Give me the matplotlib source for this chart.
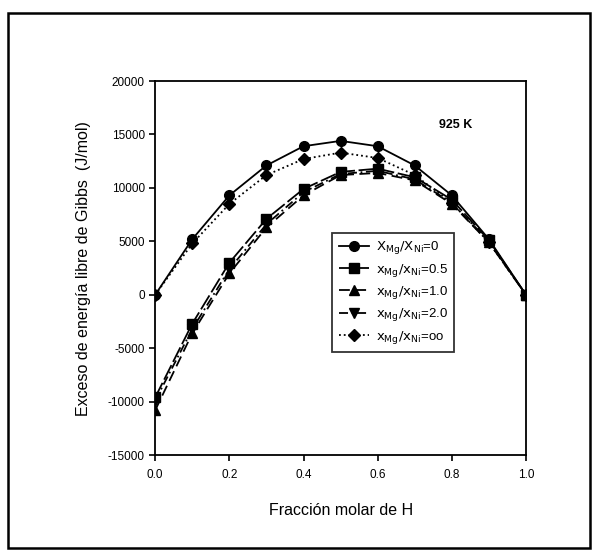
import numpy as np
import matplotlib
matplotlib.use("Agg")
import matplotlib.pyplot as plt
from matplotlib.patches import Rectangle

plt.rcParams['font.family'] = ['Liberation Sans', 'DejaVu Sans']
plt.rcParams['axes.unicode_minus'] = False

# fraccion molar de H
x_h = [0.0, 0.1, 0.2, 0.3, 0.4, 0.5, 0.6, 0.7, 0.8, 0.9, 1.0]

# exceso de energia libre (J/mol) para cada relacion xMg/xNi
g_0 = [0, 5200, 9300, 12100, 13900, 14400, 13900, 12100, 9300, 5200, 0]
g_05 = [-9600, -2700, 3000, 7100, 9900, 11500, 11800, 11000, 8900, 5100, 0]
g_10 = [-10800, -3600, 2000, 6300, 9300, 11200, 11400, 10700, 8500, 4900, 0]
g_20 = [-9900, -3200, 2400, 6600, 9600, 11300, 11600, 10800, 8600, 5000, 0]
g_oo = [0, 4800, 8500, 11200, 12700, 13300, 12800, 11200, 8600, 4900, 0]

labels = [r'$\mathrm{X_{Mg}/X_{Ni}}$=0', r'$\mathrm{x_{Mg}/x_{Ni}}$=0.5',
          r'$\mathrm{x_{Mg}/x_{Ni}}$=1.0', r'$\mathrm{x_{Mg}/x_{Ni}}$=2.0',
          r'$\mathrm{x_{Mg}/x_{Ni}}$=oo']

fig = plt.figure(figsize=(5.97, 5.55), dpi=100)
# marco exterior
fig.patches.append(Rectangle((0.014, 0.013), 0.974, 0.964, transform=fig.transFigure,
                             fill=False, lw=1.8, color='black'))

ax = fig.add_axes([0.260, 0.180, 0.621, 0.674])

ms = 7
lw = 1.3
ax.plot(x_h, g_0, color='black', ls='-', lw=lw, marker='o', ms=ms, label=labels[0])
ax.plot(x_h, g_05, color='black', ls=(0, (9, 2)), lw=lw, marker='s', ms=ms - 0.5, label=labels[1])
ax.plot(x_h, g_10, color='black', ls=(0, (6, 3)), lw=lw, marker='^', ms=ms, label=labels[2])
ax.plot(x_h, g_20, color='black', ls=(0, (5, 2, 1, 2)), lw=lw, marker='v', ms=ms, label=labels[3])
ax.plot(x_h, g_oo, color='black', ls=':', lw=lw, marker='D', ms=ms - 1, label=labels[4])

ax.set_xlim(0, 1.0)
ax.set_ylim(-15000, 20000)
ax.set_xticks(np.arange(0, 1.01, 0.2))
ax.set_xticklabels(['0.0', '0.2', '0.4', '0.6', '0.8', '1.0'])
ax.set_yticks(np.arange(-15000, 20001, 5000))
ax.tick_params(axis='both', direction='out', length=4, width=1.2, labelsize=8.5)
ax.tick_params(axis='x', pad=6)
ax.tick_params(top=False, right=False)
for sp in ax.spines.values():
    sp.set_linewidth(1.3)

ax.set_xlabel('Fracción molar de H', fontsize=11.5, labelpad=16)
ax.set_ylabel('Exceso de energía libre de Gibbs  (J/mol)', fontsize=11.5, labelpad=12)

ax.text(0.81, 15900, '925 K', fontsize=9, fontweight='bold', ha='center', va='center')

leg = ax.legend(loc='upper left', bbox_to_anchor=(0.477, 0.594), fontsize=9.5,
                frameon=True, fancybox=False, edgecolor='black', handlelength=2.3,
                handletextpad=0.5, borderpad=0.5, labelspacing=0.4, borderaxespad=0)
leg.get_frame().set_linewidth(1.3)

fig.savefig('out.png', dpi=100)
